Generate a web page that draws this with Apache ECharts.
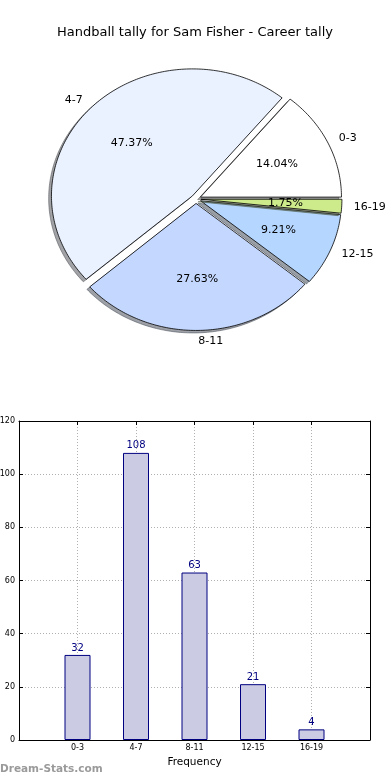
<!DOCTYPE html>
<html><head><meta charset="utf-8">
<script src="https://cdn.jsdelivr.net/npm/echarts@6/dist/echarts.min.js"></script>
<style>html,body{margin:0;padding:0;background:#fff}#c{width:390px;height:780px}</style>
</head><body><div id="c"></div>
<script>
const titleText = 'Handball tally for Sam Fisher - Career tally';
const categories = ['0-3', '4-7', '8-11', '12-15', '16-19'];
const counts = [32, 108, 63, 21, 4];
const pieColors = ['#ffffff', '#eaf1ff', '#c3d7ff', '#b5d6ff', '#cdeb8b'];
const yTicks = [0, 20, 40, 60, 80, 100, 120];
const xAxisName = 'Frequency';
const watermark = 'Dream-Stats.com';

const total = counts.reduce((a, b) => a + b, 0);
const FONT = 'DejaVu Sans';
const PIE = { cx: 196, cy: 199, rx: 141, ry: 127, explode: 0.035, shadowDx: -2.8, shadowDy: 2.5, labelDist: 1.085 };

function hexRgb(h) { return [1, 3, 5].map(k => parseInt(h.substr(k, 2), 16)); }

function renderWedge(params, api) {
  const i = params.dataIndex;
  const v = api.value(0);
  let before = 0;
  for (let k = 0; k < i; k++) before += counts[k];
  const a0 = before / total * 2 * Math.PI;
  const a1 = (before + v) / total * 2 * Math.PI;
  const am = (a0 + a1) / 2;
  const ox = PIE.cx + PIE.explode * PIE.rx * Math.cos(am);
  const oy = PIE.cy - PIE.explode * PIE.ry * Math.sin(am);
  const pts = [[ox, oy]];
  const n = Math.max(2, Math.ceil((a1 - a0) / (Math.PI / 180)));
  for (let s = 0; s <= n; s++) {
    const a = a0 + (a1 - a0) * s / n;
    pts.push([ox + PIE.rx * Math.cos(a), oy - PIE.ry * Math.sin(a)]);
  }
  const spts = pts.map(p => [p[0] + PIE.shadowDx, p[1] + PIE.shadowDy]);
  const rgb = hexRgb(pieColors[i]).map(c => Math.round(c * 0.3));
  const sc = 'rgba(' + rgb.join(',') + ',0.5)';
  const lx = ox + PIE.labelDist * PIE.rx * Math.cos(am);
  const ly = oy - PIE.labelDist * PIE.ry * Math.sin(am);
  const px = ox + 0.6 * PIE.rx * Math.cos(am);
  const py = oy - 0.6 * PIE.ry * Math.sin(am);
  return {
    type: 'group',
    children: [
      { type: 'polygon', shape: { points: spts }, style: { fill: sc, stroke: sc, lineWidth: 1 } },
      { type: 'polygon', shape: { points: pts }, style: { fill: pieColors[i], stroke: '#000', lineWidth: 0.8 } },
      { type: 'text', x: px, y: py, style: { text: (v / total * 100).toFixed(2) + '%', fill: '#000', font: '11px "' + FONT + '"', align: 'center', verticalAlign: 'middle' } },
      { type: 'text', x: lx, y: ly, style: { text: categories[i], fill: '#000', font: '11px "' + FONT + '"', align: Math.cos(am) > 0 ? 'left' : 'right', verticalAlign: 'middle' } }
    ]
  };
}

const chart = echarts.init(document.getElementById('c'), null, { renderer: 'canvas' });
const grid = { left: 19, top: 421, right: 20, bottom: 40, containLabel: false, outerBoundsMode: 'none' };
const dotted = { show: true, lineStyle: { color: '#b0b0b0', type: [1, 2], width: 1 } };
chart.setOption({
  animation: false,
  backgroundColor: '#fff',
  textStyle: { fontFamily: FONT },
  title: { text: titleText, left: 'center', top: 21, textStyle: { fontFamily: FONT, fontSize: 13, fontWeight: 'normal', color: '#000' } },
  graphic: [{ type: 'text', left: 0, top: 764, style: { text: watermark, fill: '#9a9a9a', font: 'bold 10.5px "' + FONT + '"' } }],
  grid: grid,
  xAxis: [
    { type: 'value', min: -1, max: 5, interval: 1,
      axisLine: { show: true, onZero: false, lineStyle: { color: '#000', width: 1 } },
      axisTick: { show: true, inside: true, length: 4, lineStyle: { color: '#000' } },
      axisLabel: { fontSize: 8, color: '#000', margin: 4, formatter: v => categories[v] || '' },
      splitLine: dotted,
      name: xAxisName, nameLocation: 'middle', nameGap: 17, nameTextStyle: { fontSize: 10.5, color: '#000', fontFamily: FONT } },
    { type: 'value', position: 'top', min: -1, max: 5, interval: 1,
      axisLine: { show: true, onZero: false, lineStyle: { color: '#000', width: 1 } },
      axisTick: { show: true, inside: true, length: 4, lineStyle: { color: '#000' } },
      axisLabel: { show: false }, splitLine: { show: false } }
  ],
  yAxis: [
    { type: 'value', min: yTicks[0], max: yTicks[yTicks.length - 1], interval: 20,
      axisLine: { show: true, onZero: false, lineStyle: { color: '#000', width: 1 } },
      axisTick: { show: true, inside: true, length: 4, lineStyle: { color: '#000' } },
      axisLabel: { fontSize: 8, color: '#000', margin: 4 },
      splitLine: dotted },
    { type: 'value', position: 'right', min: yTicks[0], max: yTicks[yTicks.length - 1], interval: 20,
      axisLine: { show: true, onZero: false, lineStyle: { color: '#000', width: 1 } },
      axisTick: { show: true, inside: true, length: 4, lineStyle: { color: '#000' } },
      axisLabel: { show: false }, splitLine: { show: false } }
  ],
  series: [
    { type: 'custom', coordinateSystem: 'none', renderItem: renderWedge,
      data: counts.map((v, i) => ({ value: [v], name: categories[i] })), silent: true },
    { type: 'bar', xAxisIndex: 0, yAxisIndex: 0, barWidth: 26,
      data: counts.map((v, i) => [i, v]),
      itemStyle: { color: '#cbcbe3', borderColor: '#000080', borderWidth: 1 },
      label: { show: true, position: 'top', distance: 2, color: '#000080', fontSize: 10, fontFamily: FONT } }
  ]
});
</script></body></html>
